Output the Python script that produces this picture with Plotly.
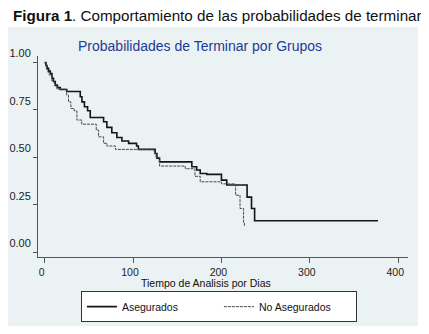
import plotly.graph_objects as go

# Kaplan-Meier step data
aseg_t = [0, 1.5, 2.7, 4.5, 6.4, 8.3, 10, 12, 14.5, 17.7, 25, 40.3, 42.2, 45, 48.6, 51.6,
          66.7, 70.4, 76, 81.7, 87.4, 95, 104, 106, 125, 127, 130, 166.5, 172, 176,
          183.4, 200, 206, 229, 234, 237.5, 377]
aseg_s = [1.0, 0.985, 0.97, 0.955, 0.943, 0.917, 0.9, 0.88, 0.868, 0.858, 0.848, 0.82, 0.793,
          0.767, 0.746, 0.71, 0.688, 0.658, 0.63, 0.605, 0.586, 0.574, 0.56, 0.542, 0.52,
          0.495, 0.476, 0.45, 0.433, 0.415, 0.41, 0.38, 0.354, 0.29, 0.23, 0.165, 0.165]

noaseg_t = [0, 2, 3.5, 5, 8, 11, 14, 25, 27, 29.7, 33.5, 36.5, 42, 58.4, 61, 66.7, 70.4,
            80, 124, 126, 130, 159, 170, 176, 200, 216, 221, 225, 226]
noaseg_s = [1.0, 0.965, 0.95, 0.935, 0.905, 0.885, 0.86, 0.828, 0.793, 0.758, 0.746, 0.697,
            0.675, 0.644, 0.608, 0.574, 0.56, 0.542, 0.52, 0.50, 0.454, 0.44, 0.40, 0.371,
            0.36, 0.30, 0.23, 0.153, 0.135]

y_ticks = [0, 0.25, 0.5, 0.75, 1.0]
y_labels = ["0.00", "0.25", "0.50", "0.75", "1.00"]
x_ticks = [0, 100, 200, 300, 400]

fig = go.Figure()
fig.add_trace(go.Scatter(x=aseg_t, y=aseg_s, mode="lines", name="Asegurados",
                         line=dict(shape="hv", color="#151515", width=1.6)))
fig.add_trace(go.Scatter(x=noaseg_t, y=noaseg_s, mode="lines", name="No Asegurados",
                         line=dict(shape="hv", color="#4a4a4a", width=1, dash="3px,1px")))

# graph region panel (light teal)
fig.add_shape(type="rect", xref="paper", yref="paper", x0=-0.081, x1=1.027, y0=-0.343, y1=1.144,
              fillcolor="#EAF2F3", line=dict(width=0), layer="below")

fig.add_annotation(text="<b>Figura 1</b>. Comportamiento de las probabilidades de terminar",
                   xref="paper", yref="paper", x=-0.072, y=1.2, xanchor="left", yanchor="middle",
                   showarrow=False,
                   font=dict(family="Arial, Liberation Sans", size=15.2, color="#111"))
fig.add_annotation(text="Probabilidades de Terminar por Grupos",
                   xref="paper", yref="paper", x=0.438, y=1.05, xanchor="center", yanchor="middle",
                   showarrow=False,
                   font=dict(family="Arial, Liberation Sans", size=14, color="#1F3A93"))
fig.add_annotation(text="Tiempo de Analisis por Dias",
                   xref="paper", yref="paper", x=0.454, y=-0.128, xanchor="center", yanchor="middle",
                   showarrow=False,
                   font=dict(family="Arial, Liberation Sans", size=10.5, color="#111"))

fig.update_layout(
    width=429, height=334,
    margin=dict(l=30, r=29, t=48, b=85),
    paper_bgcolor="white", plot_bgcolor="white",
    showlegend=True,
    legend=dict(orientation="h", x=0.116, y=-0.17, xanchor="left", yanchor="top",
                bgcolor="white", bordercolor="#333", borderwidth=1,
                font=dict(family="Arial, Liberation Sans", size=10.5, color="#111"),
                entrywidth=92, itemwidth=30, tracegroupgap=0),
    font=dict(family="Arial, Liberation Sans"),
)
fig.update_xaxes(range=[-7.5, 411], tickvals=x_ticks, showgrid=False, zeroline=False,
                 showline=True, linecolor="#555", linewidth=1, ticks="outside", ticklen=5,
                 tickcolor="#555", tickfont=dict(size=10.5, color="#222"), ticklabelshift=-3,
                 automargin=False)
fig.update_yaxes(range=[-0.026, 1.035], tickvals=y_ticks, ticktext=y_labels,
                 showgrid=True, gridcolor="#EAF2F3", gridwidth=1, zeroline=False,
                 showline=True, linecolor="#555", linewidth=1, ticks="outside", ticklen=4,
                 tickcolor="#555", tickfont=dict(size=11, color="#222"), ticklabelshift=-9,
                 automargin=False)

fig.write_html("out.html")
